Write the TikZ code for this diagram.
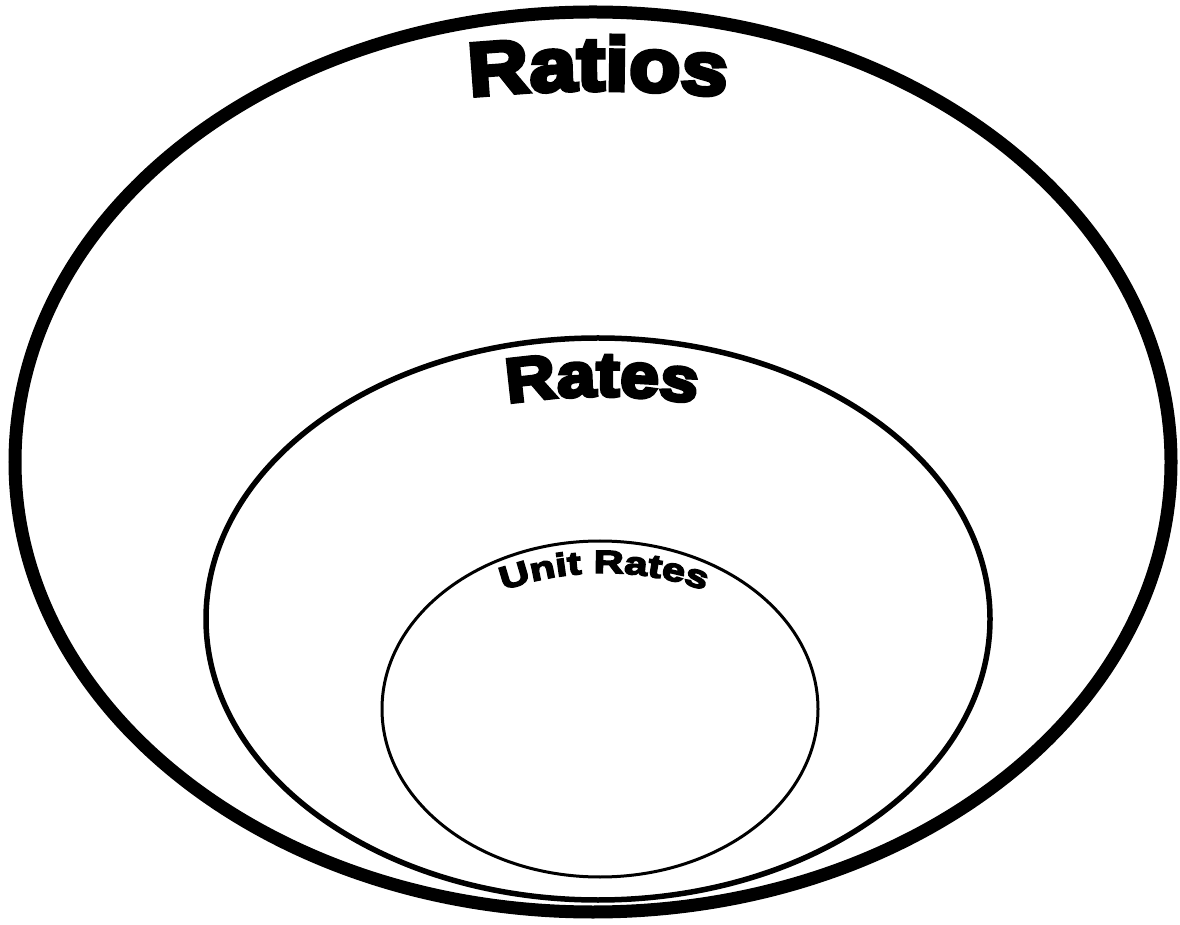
\documentclass[tikz,border=0pt]{standalone}
\usepackage{fontspec}
\usetikzlibrary{shapes.geometric,decorations.text}
\newfontfamily\heavyA{Liberation Sans}[FakeBold=6,FakeStretch=1.12]
\newfontfamily\heavyB{Liberation Sans}[FakeBold=5,FakeStretch=1.3]
\newcommand\ratiosfont{\heavyA\bfseries\fontsize{75pt}{80pt}\selectfont}
\newcommand\ratesfont{\heavyA\bfseries\fontsize{62pt}{66pt}\selectfont}
\newcommand\unitfont{\heavyB\bfseries\fontsize{32pt}{34pt}\selectfont}
\begin{document}
\begin{tikzpicture}[x=1pt,y=1pt,
  ring/.style={draw=black, ellipse, inner sep=0pt, outer sep=0pt},
  curvedlabel/.style={decorate, decoration={text along path, text align=center, text={#1}}}]
\useasboundingbox[fill=white] (0,0) rectangle (1180,924);
\node[ring, line width=13pt, minimum width=1156pt, minimum height=900pt] (ratios) at (593,462) {};
\node[ring, line width=5.5pt, minimum width=784pt, minimum height=562pt] (rates) at (598,305) {};
\node[ring, line width=3pt, minimum width=436pt, minimum height=336pt] (unit) at (600,215) {};
\path[curvedlabel={|\ratiosfont|Ratios}] ([shift={(97.5:1305)}]598,-471) arc[start angle=97.5,end angle=82.5,radius=1305];
\path[curvedlabel={|\ratesfont|Rates}] ([shift={(102:629)}]602,-101) arc[start angle=102,end angle=78,radius=629];
\path[curvedlabel={|\unitfont|Unit Rates}] ([shift={(115:300)}]604,51) arc[start angle=115,end angle=65,radius=300];
\end{tikzpicture}
\end{document}
